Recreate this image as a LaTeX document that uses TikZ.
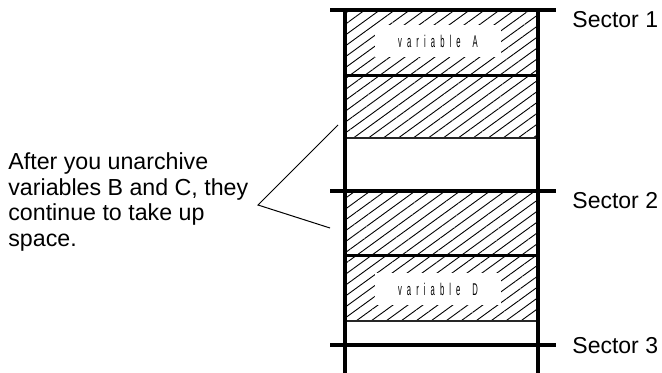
\documentclass[tikz,border=0pt]{standalone}
\usepackage{fontspec}
\setmainfont{Liberation Sans}
\newfontfamily\narrowfont[FakeStretch=0.45,LetterSpace=30]{Liberation Sans}
\usetikzlibrary{positioning,patterns.meta}

\begin{document}
\begin{tikzpicture}[x=0.5pt,y=-0.5pt,
  rail/.style={line width=2.2pt},
  sector/.style={line width=2pt},
  seam/.style={line width=1.5pt},
  edge/.style={line width=1pt,black!85},
  hatch/.style={pattern={Lines[angle=36,distance=4.4pt,line width=0.45pt]}},
  tag/.style={fill=white,inner sep=0pt,minimum width=63pt,minimum height=16pt,
    font=\narrowfont\fontsize{8.5}{9}\selectfont},
  lbl/.style={font=\fontsize{11.5}{13}\selectfont,anchor=west,inner sep=0pt},
  ptr/.style={line width=0.5pt}]
\useasboundingbox (0,0) rectangle (662,373);
% hatched space (variables A/B and C/D)
\fill[hatch] (345,10) rectangle (538,138);
\fill[hatch] (345,191) rectangle (538,321);
\draw[seam] (345,76)--(538,76);
\draw[edge] (345,138)--(538,138);
\draw[seam] (345,256)--(538,256);
\draw[edge] (345,321)--(538,321);
\node[tag] (varA) at (438,41) {variable\hspace{6pt}A};
\node[tag] (varD) at (438,289) {variable\hspace{6pt}D};
% sector boundaries and rails
\foreach \y in {10,191,345}{\draw[sector] (330,\y)--(556,\y);}
\draw[rail] (345,10)--(345,373);
\draw[rail] (538,10)--(538,373);
\node[lbl] (sec1) at (572,20) {Sector 1};
\node[lbl] (sec2) at (572,201) {Sector 2};
\node[lbl] (sec3) at (572,346) {Sector 3};
% callout to the unarchived blocks
\node[font=\fontsize{11.6}{12.9}\selectfont,align=left,anchor=north west,inner sep=0pt]
  (note) at (8,152) {After you unarchive\\variables B and C, they\\continue to take up\\space.};
\coordinate (apex) at (258,205);
\coordinate (tipB) at (338,125);
\coordinate (tipC) at (330,228);
\draw[ptr] (tipB)--(apex)--(tipC);
\end{tikzpicture}
\end{document}
